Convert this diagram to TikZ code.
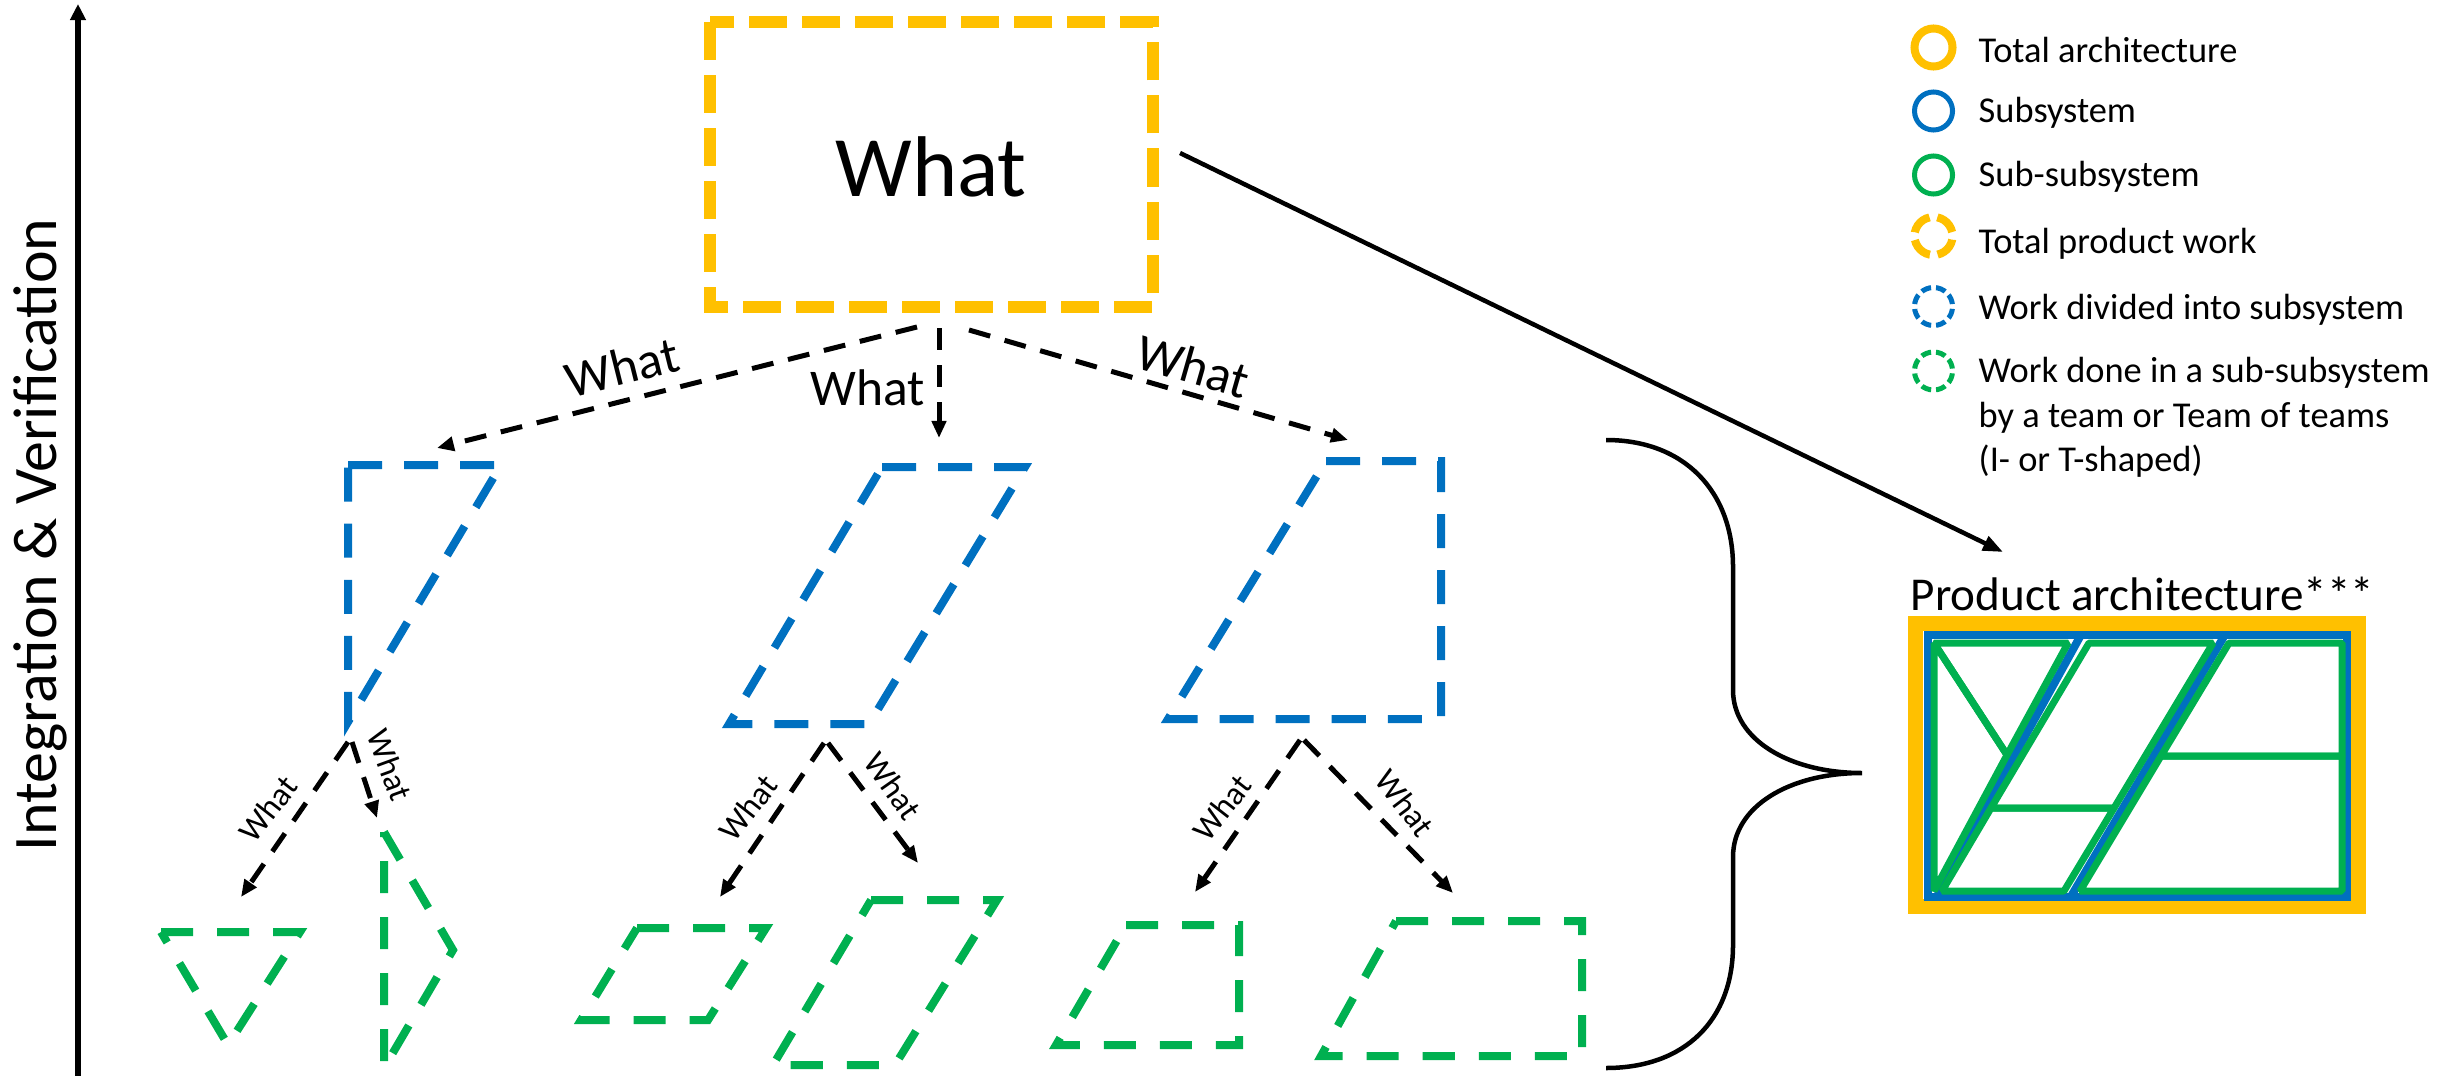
\documentclass[tikz,border=0pt]{standalone}
\usepackage{fontspec}
\setmainfont{Carlito}
\usetikzlibrary{arrows.meta}
\definecolor{ylw}{HTML}{FFC000}
\definecolor{blu}{HTML}{0070C0}
\definecolor{grn}{HTML}{00B050}
\begin{document}
\begin{tikzpicture}[x=0.01cm,y=-0.01cm,
  totalwork/.style={draw=ylw,line width=0.12cm,dash pattern=on 0.38cm off 0.15cm},
  subwork/.style={draw=blu,line width=0.08cm,dash pattern=on 0.34cm off 0.22cm},
  subsubwork/.style={draw=grn,line width=0.08cm,dash pattern=on 0.32cm off 0.24cm},
  whatarrow/.style={draw=black,line width=0.05cm,dash pattern=on 0.22cm off 0.15cm,-{Triangle[length=0.17cm,width=0.14cm]}},
  bigtxt/.style={inner sep=0pt,font=\fontsize{24.5pt}{29pt}\selectfont},
  midtxt/.style={inner sep=0pt,font=\fontsize{14.65pt}{17pt}\selectfont},
  smalltxt/.style={inner sep=0pt,font=\fontsize{9.4pt}{11pt}\selectfont},
  legtxt/.style={inner sep=0pt,anchor=base west,font=\fontsize{10.35pt}{12.8pt}\selectfont},
  legring/.style={line width=0.05cm},
  archline/.style={draw=grn,line width=0.07cm,line join=bevel},
  subline/.style={draw=blu,line width=0.08cm}
]
\useasboundingbox (0,0) rectangle (2464,1076);

% ---- vertical axis ----
\coordinate (axisbot) at (78,1076);
\coordinate (axistop) at (78,4);
\draw[line width=0.06cm,-{Triangle[length=0.16cm,width=0.15cm]}] (axisbot) -- (axistop);
\node[rotate=90,anchor=base,inner sep=0pt,font=\fontsize{17.6pt}{21pt}\selectfont] (iv) at (57,535) {Integration \& Verification};

% ---- total product work ----
\draw[totalwork] (710,22) rectangle (1153,307);
\node[bigtxt,anchor=base] (bigwhat) at (931,197) {What};

% ---- level 1 arrows ----
\coordinate (ya) at (917,327);
\coordinate (yb) at (939,328);
\coordinate (yc) at (969,330);
\coordinate (b1in) at (437,448);
\coordinate (b2in) at (939,438);
\coordinate (b3in) at (1348,440);
\draw[whatarrow] (ya) -- (b1in);
\draw[whatarrow] (yb) -- (b2in);
\draw[whatarrow] (yc) -- (b3in);
\node[midtxt,rotate=14] (wl1) at (622,367) {What};
\node[midtxt,anchor=base] (wl2) at (868,405) {What};
\node[midtxt,rotate=-16] (wl3) at (1193,366) {What};

% ---- subsystem work (blue) ----
\draw[subwork] (348,465) -- (501,465) -- (348,722) -- cycle;
\draw[subwork] (882,467) -- (1025,467) -- (869,724) -- (729,724) -- cycle;
\draw[subwork] (1326,461) -- (1441,461) -- (1441,719) -- (1168,719) -- cycle;

% ---- level 2 arrows ----
\coordinate (s1a) at (348,742);
\coordinate (s1b) at (352,742);
\coordinate (s2a) at (824,743);
\coordinate (s2b) at (828,743);
\coordinate (s3a) at (1300,740);
\coordinate (s3b) at (1304,740);
\coordinate (g1in) at (241,897);
\coordinate (g2in) at (377,818);
\coordinate (g3in) at (720,897);
\coordinate (g4in) at (918,863);
\coordinate (g5in) at (1195,892);
\coordinate (g6in) at (1453,893);
\draw[whatarrow] (s1a) -- (g1in);
\draw[whatarrow] (s1b) -- (g2in);
\draw[whatarrow] (s2a) -- (g3in);
\draw[whatarrow] (s2b) -- (g4in);
\draw[whatarrow] (s3a) -- (g5in);
\draw[whatarrow] (s3b) -- (g6in);
\node[smalltxt,rotate=52] (w1a) at (268,809) {What};
\node[smalltxt,rotate=-70] (w1b) at (390,765) {What};
\node[smalltxt,rotate=52] (w2a) at (748,808) {What};
\node[smalltxt,rotate=-55] (w2b) at (893,786) {What};
\node[smalltxt,rotate=52] (w3a) at (1222,808) {What};
\node[smalltxt,rotate=-53] (w3b) at (1405,803) {What};

% ---- sub-subsystem work (green) ----
\draw[subsubwork] (161,932) -- (300,932) -- (228,1045) -- cycle;
\draw[subsubwork] (384,832) -- (453,950) -- (384,1068) -- cycle;
\draw[subsubwork] (637,928) -- (766,928) -- (708,1020) -- (581,1020) -- cycle;
\draw[subsubwork] (871,900) -- (997,900) -- (895,1065) -- (773,1065) -- cycle;
\draw[subsubwork] (1126,925) -- (1239,925) -- (1239,1045) -- (1056,1045) -- cycle;
\draw[subsubwork] (1396,921) -- (1582,921) -- (1582,1056) -- (1321,1056) -- cycle;

% ---- brace ----
\draw[line width=0.045cm] (1606,440) .. controls (1685,440) and (1733,492) .. (1733,567)
  -- (1733,690) .. controls (1733,740) and (1790,773) .. (1862,773)
  .. controls (1790,773) and (1733,806) .. (1733,857)
  -- (1733,945) .. controls (1733,1020) and (1685,1068) .. (1606,1068);

% ---- arrow to product architecture ----
\coordinate (d0) at (1180,153);
\coordinate (d1) at (2003,552);
\draw[line width=0.045cm,-{Triangle[length=0.2cm,width=0.15cm]}] (d0) -- (d1);

% ---- product architecture ----
\node[inner sep=0pt,anchor=base west,font=\fontsize{13.4pt}{16pt}\selectfont] (pa) at (1910,610) {Product architecture***};
\draw[ylw,line width=0.15cm] (1915.5,623.5) rectangle (2358.5,906.5);
\draw[subline] (1928,635) rectangle (2347,897);
\draw[subline] (2082,633) -- (1936,898);
\draw[subline] (2226,633) -- (2070,898);
\draw[archline] (1934,643) -- (2068,643) -- (2007,755) -- cycle;
\draw[archline] (1934,643) -- (2007,755) -- (1934,891) -- cycle;
\draw[archline] (2089,643) -- (2213,643) -- (2114,808) -- (1991,808) -- cycle;
\draw[archline] (1991,808) -- (2114,808) -- (2064,891) -- (1942,891) -- cycle;
\draw[archline] (2229,643) -- (2342,643) -- (2342,756) -- (2161,756) -- cycle;
\draw[archline] (2161,756) -- (2342,756) -- (2342,891) -- (2080,891) -- cycle;

% ---- legend ----
\draw[ylw,line width=0.08cm] (1933.5,47.5) circle[radius=0.19cm];
\draw[blu,legring] (1933.5,111) circle[radius=0.19cm];
\draw[grn,legring] (1933.5,175) circle[radius=0.19cm];
\draw[ylw,line width=0.08cm,dash pattern=on 0.22cm off 0.0785cm,dash phase=0.259cm] (1933.5,236) circle[radius=0.19cm];
\draw[blu,legring,dash pattern=on 0.1cm off 0.0492cm,dash phase=0.125cm] (1933.5,306.5) circle[radius=0.19cm];
\draw[grn,legring,dash pattern=on 0.1cm off 0.0492cm,dash phase=0.125cm] (1933.5,371) circle[radius=0.19cm];
\node[legtxt] (l1) at (1978,63) {Total architecture};
\node[legtxt] (l2) at (1978,123) {Subsystem};
\node[legtxt] (l3) at (1978,187) {Sub-subsystem};
\node[legtxt] (l4) at (1978,253) {Total product work};
\node[legtxt] (l5) at (1978,319) {Work divided into subsystem};
\node[legtxt] (l6a) at (1978,382) {Work done in a sub-subsystem};
\node[legtxt] (l6b) at (1978,427) {by a team or Team of teams};
\node[legtxt] (l6c) at (1978,471) {(I- or T-shaped)};
\end{tikzpicture}
\end{document}
